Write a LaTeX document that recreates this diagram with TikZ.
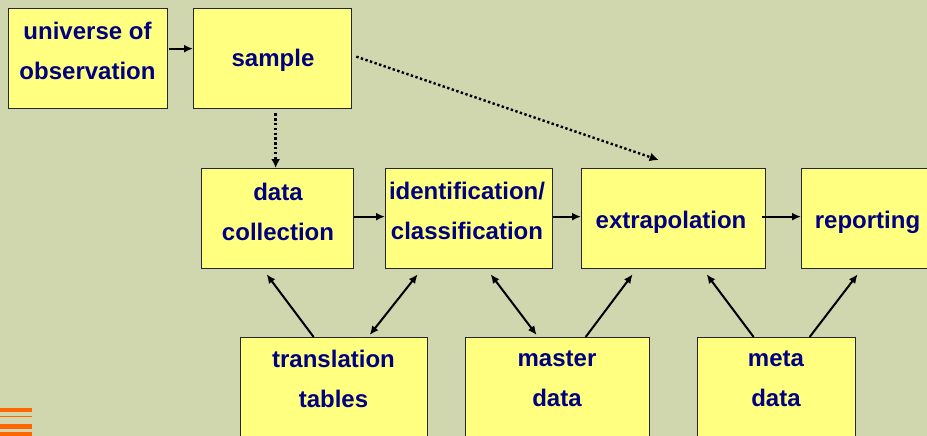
\documentclass[tikz,border=0pt]{standalone}
\usepackage{fontspec}
\setmainfont{Liberation Sans}
\usetikzlibrary{arrows.meta}
\definecolor{bg}{RGB}{208,214,174}
\definecolor{boxfill}{RGB}{255,255,128}
\definecolor{navy}{RGB}{0,0,128}
\definecolor{orng}{RGB}{255,102,0}
\begin{document}
\begin{tikzpicture}[x=1pt,y=-1pt,
  box/.style={draw=black!85, line width=1.3pt, fill=boxfill, inner sep=0pt, anchor=north west},
  lbl/.style={text=navy, font=\fontsize{24}{40}\selectfont\bfseries, align=center, inner sep=0pt},
  arr/.style={line width=2pt, -{Latex[length=9pt,width=8pt]}},
  darr/.style={line width=2pt, {Latex[length=9pt,width=8pt]}-{Latex[length=9pt,width=8pt]}},
  dotarr/.style={line width=2.4pt, dash pattern=on 2.4pt off 2.4pt, -{Latex[length=9pt,width=9pt]}},
  stripe/.style={fill=orng, draw=none}]
\useasboundingbox[fill=bg] (0,0) rectangle (927,436);

% boxes
\node[box, minimum width=159pt, minimum height=100pt] (uni) at (8,8) {};
\node[box, minimum width=158pt, minimum height=100pt] (sam) at (193,8) {};
\node[box, minimum width=152pt, minimum height=100pt] (dc) at (201,168) {};
\node[box, minimum width=167pt, minimum height=100pt] (id) at (385,168) {};
\node[box, minimum width=184pt, minimum height=100pt] (ex) at (581,168) {};
\node[box, minimum width=133pt, minimum height=100pt] (rep) at (801,168) {};
\node[box, minimum width=187pt, minimum height=108pt] (tr) at (240,337) {};
\node[box, minimum width=184pt, minimum height=108pt] (ma) at (465,337) {};
\node[box, minimum width=158pt, minimum height=108pt] (me) at (697,337) {};

% labels
\node[lbl] (unit) at (87.5,51) {universe of\\observation};
\node[lbl] (samt) at (273,60) {sample};
\node[lbl] (dct) at (278,212) {data\\collection};
\node[lbl] (idt) at (467,211) {identification/\\classification};
\node[lbl] (ext) at (671,222) {extrapolation};
\node[lbl] (rept) at (867.5,222) {reporting};
\node[lbl] (trt) at (333.5,379) {translation\\tables};
\node[lbl] (mat) at (557,379) {master\\data};
\node[lbl] (met) at (776,379) {meta\\data};

% horizontal arrows
\draw[arr] ([xshift=1pt,yshift=10pt]uni.east) -- ([yshift=10pt]sam.west);
\draw[arr] ([yshift=2pt]dc.east) -- ([yshift=2pt]id.west);
\draw[arr] ([yshift=2pt]id.east) -- ([yshift=2pt]ex.west);
\draw[arr] ([xshift=-4pt,yshift=2pt]ex.east) -- ([yshift=2pt]rep.west);

% dotted arrows
\draw[dotarr] ([xshift=3pt,yshift=-4pt]sam.south) -- ([xshift=-2pt]dc.north);
\draw[dotarr] ([xshift=4pt,yshift=2pt]sam.east) -- ([xshift=-15pt,yshift=8pt]ex.north);

% arrows from bottom boxes
\draw[arr] ([xshift=-20.5pt]tr.north) -- ([xshift=-11pt,yshift=-5pt]dc.south);
\draw[darr] ([xshift=35.5pt,yshift=2pt]tr.north) -- ([xshift=-51.5pt,yshift=-5pt]id.south);
\draw[darr] ([xshift=21.5pt,yshift=-5pt]id.south) -- ([xshift=-21pt,yshift=2pt]ma.north);
\draw[arr] ([xshift=28pt]ma.north) -- ([xshift=-41pt,yshift=-5pt]ex.south);
\draw[arr] ([xshift=-23pt]me.north) -- ([xshift=33pt,yshift=-5pt]ex.south);
\draw[arr] ([xshift=33pt]me.north) -- ([xshift=-10.5pt,yshift=-5pt]rep.south);

% orange stripes
\fill[stripe] (0,408) rectangle (32,412);
\fill[stripe] (0,415.5) rectangle (32,417);
\fill[stripe] (0,424) rectangle (32,429);
\fill[stripe] (0,432) rectangle (32,436);
\end{tikzpicture}
\end{document}
